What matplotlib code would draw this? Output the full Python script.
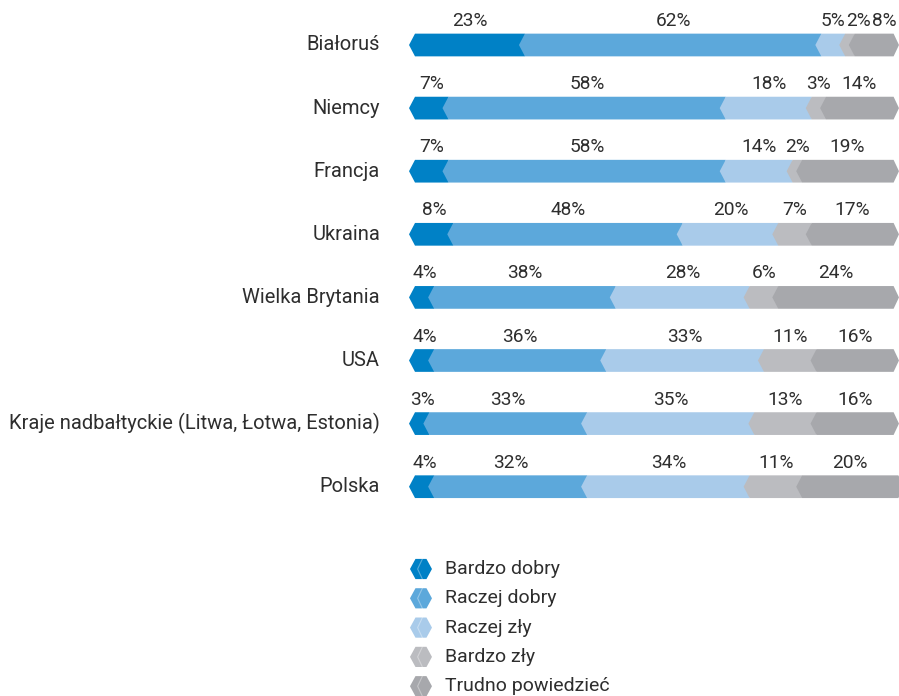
import matplotlib
matplotlib.use("Agg")
import matplotlib.pyplot as plt
from matplotlib.patches import Polygon

# dane
kraje = ["Białoruś", "Niemcy", "Francja", "Ukraina", "Wielka Brytania", "USA",
         "Kraje nadbałtyckie (Litwa, Łotwa, Estonia)", "Polska"]
bardzo_dobry = [23, 7, 7, 8, 4, 4, 3, 4]
raczej_dobry = [62, 58, 58, 48, 38, 36, 33, 32]
raczej_zly = [5, 18, 14, 20, 28, 33, 35, 34]
bardzo_zly = [2, 3, 2, 7, 6, 11, 13, 11]
trudno = [8, 14, 19, 17, 24, 16, 16, 20]
kategorie = ["Bardzo dobry", "Raczej dobry", "Raczej zły", "Bardzo zły", "Trudno powiedzieć"]
kolory = ["#0081c6", "#5ca8db", "#a9cbea", "#bbbcc0", "#a7a8ac"]

serie = [bardzo_dobry, raczej_dobry, raczej_zly, bardzo_zly, trudno]

plt.rcParams['font.family'] = ['Roboto', 'DejaVu Sans']
txt_col = "#2e2e2e"
fs_kraj = 14.5
fs_pct = 13.8
fs_leg = 14

fig = plt.figure(figsize=(8.99, 6.96), dpi=100)
ax = fig.add_axes([415 / 899, 0, 478 / 899, 1])
ax.set_xlim(0, 100)
row_px = 63.1
ax.set_ylim((696 - 45) / row_px, -45 / row_px)
ax.axis("off")

h = 0.18      # polowa wysokosci paska
tip = 1.25    # szpic

for i, kraj in enumerate(kraje):
    vals = [s[i] for s in serie]
    start = 0
    centers = []
    for k, v in enumerate(vals):
        end = start + v
        pts = [(start - tip, i), (start, i - h), (end, i - h)]
        if k == len(vals) - 1:
            pts += [(end + tip * 0.1, i - h), (end + tip, i), (end + tip * 0.1, i + h)]
        pts += [(end, i + h), (start, i + h)]
        ax.add_patch(Polygon(pts, closed=True, facecolor=kolory[k], edgecolor="none", clip_on=False))
        centers.append(start + v / 2)
        start = end
    # rozsuniecie etykiet
    widths = [len("%d%%" % v) * 2.05 for v in vals]
    pos = list(centers)
    for k in range(1, len(pos)):
        need = pos[k - 1] + (widths[k - 1] + widths[k]) / 2 + 1.2
        if pos[k] < need:
            pos[k] = need
    lim = 100 - widths[-1] / 2 + 0.5
    if pos[-1] > lim:
        pos[-1] = lim
        for k in range(len(pos) - 2, -1, -1):
            need = pos[k + 1] - (widths[k + 1] + widths[k]) / 2 - 1.2
            if pos[k] > need:
                pos[k] = need
    for k, v in enumerate(vals):
        ax.text(pos[k], i - 0.38, "%d%%" % v, ha="center", va="center",
                fontsize=fs_pct, color=txt_col)
    ax.text(-7.3, i, kraj, ha="right", va="center", fontsize=fs_kraj, color=txt_col)

# legenda
leg_y0 = (569 - 45) / row_px
leg_dy = 29.3 / row_px
hw = 2.3
hh = 0.16
for k, nazwa in enumerate(kategorie):
    cy = leg_y0 + k * leg_dy
    cx = 1.25
    pts = [(cx - hw, cy), (cx - hw / 2, cy - hh), (cx + hw / 2, cy - hh),
           (cx + hw, cy), (cx + hw / 2, cy + hh), (cx - hw / 2, cy + hh)]
    ax.add_patch(Polygon(pts, closed=True, facecolor=kolory[k], edgecolor="none", clip_on=False))
    ax.plot([cx + 0.3, cx - 0.7, cx + 0.3], [cy - hh, cy, cy + hh], color="white",
            alpha=0.35, lw=0.8, clip_on=False)
    ax.text(6.3, cy, nazwa, ha="left", va="center", fontsize=fs_leg, color=txt_col)

fig.savefig("out.png", dpi=100)
